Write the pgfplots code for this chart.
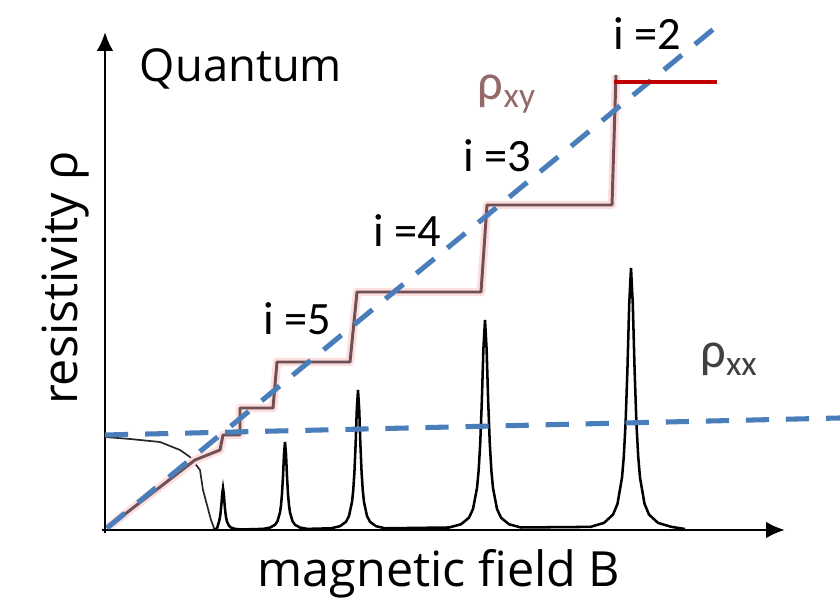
\documentclass[border=0pt]{standalone}
\usepackage{fontspec}
\setmainfont{Carlito}
\newfontfamily\labelfont{Open Sans}
\usepackage{pgfplots}
\pgfplotsset{compat=1.18}
\usetikzlibrary{arrows.meta}
\definecolor{dashblue}{RGB}{74,126,187}
\definecolor{stair}{RGB}{110,80,85}
\definecolor{glow}{RGB}{252,222,222}
\definecolor{topred}{RGB}{192,0,0}
\definecolor{rxy}{RGB}{150,105,105}
\begin{document}
\begin{tikzpicture}
\begin{axis}[
    width=14cm, height=10cm, scale only axis,
    xmin=-105, xmax=735, ymin=-70, ymax=530,
    axis lines=none,
    font=\fontsize{22}{26}\selectfont
]
% rho_xx: classical tail and Shubnikov-de Haas peaks
\addplot[black!85, line width=0.8pt] coordinates {
    (0,93) (25,91) (55,88) (75,80) (85,73) (95,60) (98,40) (102,25) (106,10) (109,2) (111,0)
};
\addplot[black, line width=1.2pt] coordinates {
    (108,0) (112,1.5) (114,8.4) (114.8,11.8) (115.6,17.2) (116.4,25.6) (117.2,36.2) (118,42)
    (118.8,36.2) (119.6,25.6) (120.4,17.2) (121.2,11.8) (122,8.4) (124,4.2) (126,2.5) (130,1.1) (136,0.5)
    (158,1.1) (165,2.4) (170,5.2) (172.5,8.8) (175,17.6) (176,24.7) (177,36.1) (178,53.7) (179,75.9) (180,88)
    (181,75.9) (182,53.7) (183,36.1) (184,24.7) (185,17.6) (187.5,8.8) (190,5.2) (195,2.4) (202.5,1.1)
    (226,1.7) (235,3.8) (241,8.2) (244,14) (247,28) (248.2,39.3) (249.4,57.4) (250.6,85.4) (251.8,120.7) (253,140)
    (254.2,120.7) (255.4,85.4) (256.6,57.4) (257.8,39.3) (259,28) (262,14) (265,8.2) (271,3.8) (280,1.7)
    (344,2.5) (356,5.7) (364,12.3) (368,21) (372,42) (373.6,59) (375.2,86.1) (376.8,128.1) (378.4,181) (380,210)
    (381.6,181) (383.2,128.1) (384.8,86.1) (386.4,59) (388,42) (392,21) (396,12.3) (404,5.7) (416,2.5)
    (485.5,3.1) (499,7.1) (508,15.4) (512.5,26.2) (517,52.4) (518.8,73.6) (520.6,107.4) (522.4,159.8) (524.2,225.8) (526,262)
    (527.8,225.8) (529.6,159.8) (531.4,107.4) (533.2,73.6) (535,52.4) (539.5,26.2) (544,15.4) (553,7.1) (566.5,3.1) (580,1)
};
% rho_xy staircase
\addplot[glow, line width=4pt, line join=round] coordinates {
    (2,2) (90,70) (115,80) (118,95) (135,95) (135,122) (168,122) (172,168) (245,168) (252,238)
    (376,238) (382,325) (507,325) (511,455)
};
\addplot[stair, line width=1.4pt, line join=round] coordinates {
    (2,2) (90,70) (115,80) (118,95) (135,95) (135,122) (168,122) (172,168) (245,168) (252,238)
    (376,238) (382,325) (507,325) (511,455)
};
% axes
\addplot[black, line width=1.4pt, -{Latex[length=9pt,width=8pt]}] coordinates {(-3,0) (680,0)};
\addplot[black, line width=1.4pt, -{Latex[length=9pt,width=8pt]}] coordinates {(0,-3) (0,498)};
% dashed guides
\addplot[dashblue, line width=2.4pt, dash pattern=on 11pt off 8pt] coordinates {(2,2) (611,503)};
\addplot[dashblue, line width=2.4pt, dash pattern=on 11pt off 8pt] coordinates {(0,95) (735,112)};
% i = 2 plateau
\addplot[topred, line width=1.9pt] coordinates {(509,448) (612,448)};
% labels
\node[anchor=base, font=\labelfont\fontsize{21.5}{26}\selectfont] at (axis cs:136,448) {Quantum};
\node[anchor=base] at (axis cs:542,480) {i =2};
\node[anchor=base] at (axis cs:392,358) {i =3};
\node[anchor=base] at (axis cs:302,283) {i =4};
\node[anchor=base] at (axis cs:192,195) {i =5};
\node[anchor=base, text=rxy, font=\fontsize{24}{28}\selectfont] at (axis cs:402,430) {ρ\textsubscript{xy}};
\node[anchor=base, text=black!75, font=\fontsize{24}{28}\selectfont] at (axis cs:624,162) {ρ\textsubscript{xx}};
\node[anchor=base, font=\labelfont\fontsize{23}{26}\selectfont] at (axis cs:334,-57) {magnetic field B};
\node[anchor=base, rotate=90, font=\labelfont\fontsize{23}{26}\selectfont] at (axis cs:-28,252) {resistivity ρ};
\end{axis}
\pgfresetboundingbox
\useasboundingbox (current axis.south west) rectangle (current axis.north east);
\end{tikzpicture}
\end{document}
